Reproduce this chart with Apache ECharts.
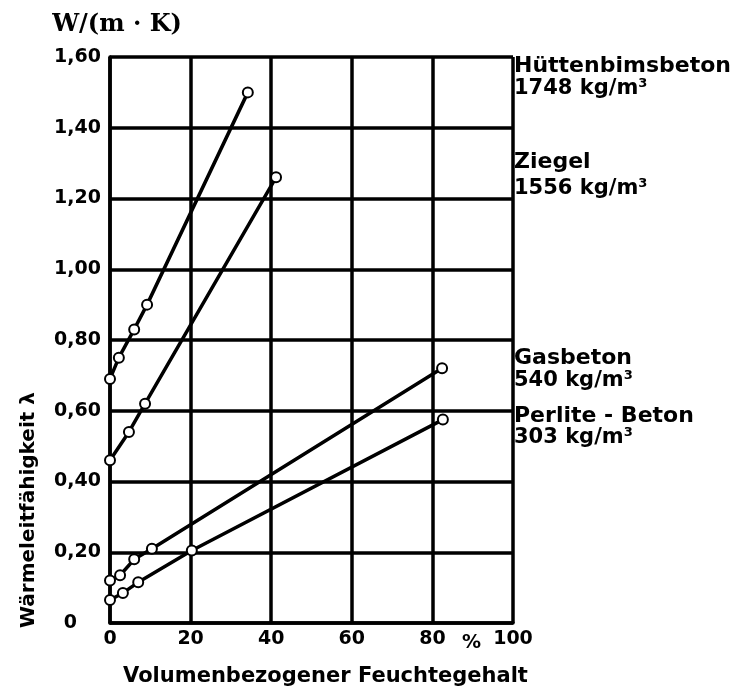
<!DOCTYPE html>
<html>
<head>
<meta charset="utf-8">
<script src="https://cdn.jsdelivr.net/npm/echarts@6/dist/echarts.min.js"></script>
<style>html,body{margin:0;padding:0;background:#fff}#c{width:740px;height:693px}</style>
</head>
<body>
<div id="c"></div>
<script>
// Data (x: volumetric moisture content %, y: thermal conductivity W/(m·K))
const huettenX = [0, 2.2, 6.0, 9.2, 34.2];
const huettenY = [0.69, 0.75, 0.83, 0.90, 1.50];
const ziegelX = [0, 4.7, 8.7, 41.2];
const ziegelY = [0.46, 0.54, 0.62, 1.26];
const gasX = [0, 2.5, 6.0, 10.4, 82.4];
const gasY = [0.12, 0.135, 0.18, 0.21, 0.72];
const perliteX = [0, 3.2, 7.0, 20.3, 82.6];
const perliteY = [0.065, 0.085, 0.115, 0.205, 0.575];
const xTicks = [0, 20, 40, 60, 80, 100];
const yTicks = ['0', '0,20', '0,40', '0,60', '0,80', '1,00', '1,20', '1,40', '1,60'];
const seriesNames = ['Hüttenbimsbeton', 'Ziegel', 'Gasbeton', 'Perlite - Beton'];
const densities = ['1748 kg/m³', '1556 kg/m³', '540 kg/m³', '303 kg/m³'];

const zip = (xs, ys) => xs.map((x, i) => [x, ys[i]]);
const FONT = 'DejaVu Sans';
const chart = echarts.init(document.getElementById('c'), null, {renderer: 'canvas'});

const lineSeries = (name, xs, ys) => ({
  name, type: 'line', data: zip(xs, ys), smooth: false,
  symbol: 'emptyCircle', symbolSize: 10,
  lineStyle: {color: '#000', width: 3.5},
  itemStyle: {color: '#000', borderColor: '#000', borderWidth: 2.5},
  z: 5
});

const labelYs = [66, 89, 162, 189, 358, 381, 416, 438];
const labelTexts = [seriesNames[0], densities[0], seriesNames[1], densities[1],
                    seriesNames[2], densities[2], seriesNames[3], densities[3]];
const labelSizes = [22, 21, 22, 21, 22, 21, 22, 21];

chart.setOption({
  animation: false,
  backgroundColor: '#fff',
  grid: {left: 110, top: 57, right: 227, bottom: 70},
  xAxis: {
    type: 'value', min: 0, max: 100, interval: 20,
    axisLine: {show: true, lineStyle: {color: '#000', width: 3.5}},
    axisTick: {show: false},
    splitLine: {show: true, lineStyle: {color: '#000', width: 3.5}},
    axisLabel: {color: '#000', fontFamily: FONT, fontWeight: 'bold', fontSize: 19, margin: 7,
      formatter: v => xTicks.indexOf(v) >= 0 ? String(v) : ''},
    name: 'Volumenbezogener Feuchtegehalt', nameLocation: 'middle', nameGap: 43,
    nameTextStyle: {color: '#000', fontFamily: FONT, fontWeight: 'bold', fontSize: 21, padding: [0, 0, 0, 28]}
  },
  yAxis: {
    type: 'value', min: 0, max: 1.6, interval: 0.2,
    axisLine: {show: true, lineStyle: {color: '#000', width: 3.5}},
    axisTick: {show: false},
    splitLine: {show: true, lineStyle: {color: '#000', width: 3.5}},
    axisLabel: {color: '#000', fontFamily: FONT, fontWeight: 'bold', fontSize: 19, margin: 9,
      formatter: v => {
        const i = Math.round(v / 0.2);
        return i === 0 ? '{z|' + yTicks[0] + '}' : yTicks[i];
      },
      rich: {z: {color: '#000', fontFamily: FONT, fontWeight: 'bold', fontSize: 19, padding: [0, 24, 0, 0]}}
    },
    name: 'W/(m · K)', nameLocation: 'end', nameGap: 20,
    nameTextStyle: {color: '#000', fontFamily: 'DejaVu Serif', fontWeight: 'bold', fontSize: 24, align: 'center', padding: [0, 0, 0, 14]}
  },
  graphic: [
    {type: 'text', rotation: Math.PI / 2, z: 10, x: 19, y: 628,
      style: {text: 'Wärmeleitfähigkeit λ', font: 'bold 20px "DejaVu Sans"', fill: '#000', align: 'left', verticalAlign: 'top'}},
    {type: 'text', x: 462, y: 643, z: 10,
      style: {text: '%', font: 'bold 19px "DejaVu Sans"', fill: '#000', align: 'left', verticalAlign: 'middle'}}
  ].concat(labelTexts.map((t, i) => ({
    type: 'text', x: 514, y: labelYs[i], z: 10,
    style: {text: t, font: 'bold ' + labelSizes[i] + 'px "DejaVu Sans"', fill: '#000', align: 'left', verticalAlign: 'middle'}
  }))),
  series: [
    lineSeries(seriesNames[0], huettenX, huettenY),
    lineSeries(seriesNames[1], ziegelX, ziegelY),
    lineSeries(seriesNames[2], gasX, gasY),
    lineSeries(seriesNames[3], perliteX, perliteY)
  ]
});
</script>
</body>
</html>
